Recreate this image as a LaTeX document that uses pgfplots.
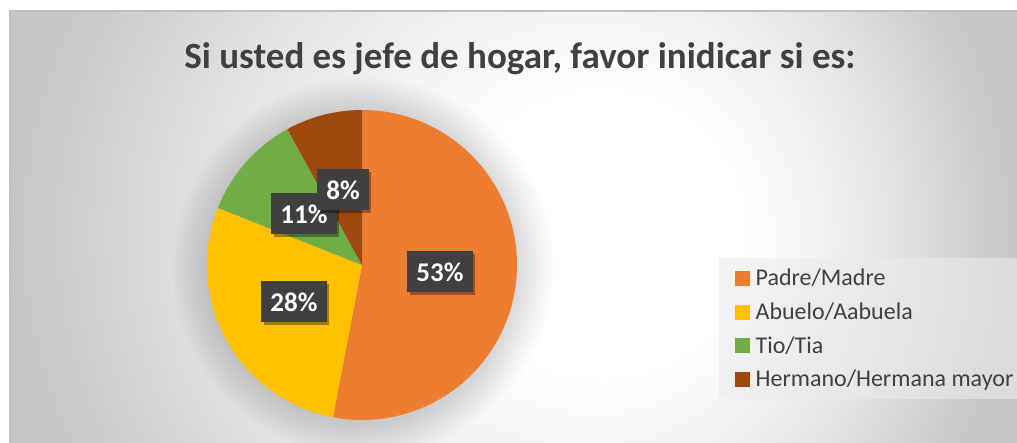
\documentclass[border=0pt]{standalone}
\usepackage{pgfplots}
\pgfplotsset{compat=1.18}
\usepackage{pgfplotstable}
\usepackage{fontspec}
\setmainfont{Carlito}
\usetikzlibrary{shadows}
\definecolor{pieA}{HTML}{ED7D31}
\definecolor{pieB}{HTML}{FFC000}
\definecolor{pieC}{HTML}{70AD47}
\definecolor{pieD}{HTML}{9E480E}
\definecolor{txt}{HTML}{404040}
\definecolor{bgout}{HTML}{C6C6C6}
\definecolor{bgmid}{HTML}{E4E4E4}

\pgfplotstableread{
share
53
28
11
8
}\piedata

% path bounding box half-size (1200pt) corresponds to 25bp
\pgfdeclareradialshading{bgshade}{\pgfpoint{12.5bp}{-0.3bp}}{color(0bp)=(white); color(3bp)=(white); color(7bp)=(bgmid); color(10.5bp)=(bgout); color(50bp)=(bgout)}

\tikzset{lbl/.style={fill=txt, text=white, font=\bfseries\fontsize{27}{32}\selectfont,
    inner xsep=9pt, inner ysep=0pt, minimum height=41pt,
    drop shadow={shadow xshift=2.5pt, shadow yshift=-2.5pt, opacity=0.35, fill=black}}}

\begin{document}
\begin{tikzpicture}
\clip (0,0) rectangle (1017pt,443pt);
\useasboundingbox (0,0) rectangle (1017pt,443pt);
\fill[white] (0,0) rectangle (1017pt,443pt);
\begin{scope}
\clip (10pt,0) rectangle (1017pt,432pt);
\fill[bgout] (10pt,0) rectangle (1017pt,432pt);
\shade[shading=bgshade] (-1162pt,-978pt) rectangle (1238pt,1422pt);
\end{scope}
\draw[gray!50, line width=1.2pt] (10pt,0) -- (10pt,432pt) -- (1017pt,432pt);

\pgfplotstablegetelem{0}{share}\of\piedata \let\sA\pgfplotsretval
\pgfplotstablegetelem{1}{share}\of\piedata \let\sB\pgfplotsretval
\pgfplotstablegetelem{2}{share}\of\piedata \let\sC\pgfplotsretval
\pgfplotstablegetelem{3}{share}\of\piedata \let\sD\pgfplotsretval
\pgfmathsetmacro{\aA}{90}
\pgfmathsetmacro{\aB}{\aA-3.6*\sA}
\pgfmathsetmacro{\aC}{\aB-3.6*\sB}
\pgfmathsetmacro{\aD}{\aC-3.6*\sC}
\pgfmathsetmacro{\aE}{\aD-3.6*\sD}

\begin{axis}[
  x=1pt, y=1pt, xmin=0, xmax=1017, ymin=0, ymax=443,
  scale only axis, axis lines=none, clip=false,
  legend style={at={(axis cs:719,185)}, anchor=north west, fill=black!8, fill opacity=0.6,
    text opacity=1, draw=none,
    font=\fontsize{24}{28}\selectfont, text=txt, row sep=11.5pt,
    inner xsep=16pt, inner ysep=9pt},
  legend cell align=left,
]
\addlegendimage{legend image code/.code={\fill[pieA, fill opacity=1] (0pt,-7pt) rectangle (14pt,7pt); \path (18pt,0pt);}}
\addlegendentry{Padre/Madre}
\addlegendimage{legend image code/.code={\fill[pieB, fill opacity=1] (0pt,-7pt) rectangle (14pt,7pt); \path (18pt,0pt);}}
\addlegendentry{Abuelo/Aabuela}
\addlegendimage{legend image code/.code={\fill[pieC, fill opacity=1] (0pt,-7pt) rectangle (14pt,7pt); \path (18pt,0pt);}}
\addlegendentry{Tio/Tia}
\addlegendimage{legend image code/.code={\fill[pieD, fill opacity=1] (0pt,-7pt) rectangle (14pt,7pt); \path (18pt,0pt);}}
\addlegendentry{Hermano/Hermana mayor}

\pgfplotsinvokeforeach{1,...,12}{\fill[black, opacity=0.011] (axis cs:363,176) circle[radius=154pt+3*#1pt];}
\fill[pieA] (axis cs:362,178) -- ++(\aA:155pt) arc[start angle=\aA, end angle=\aB, radius=155pt] -- cycle;
\fill[pieB] (axis cs:362,178) -- ++(\aB:155pt) arc[start angle=\aB, end angle=\aC, radius=155pt] -- cycle;
\fill[pieC] (axis cs:362,178) -- ++(\aC:155pt) arc[start angle=\aC, end angle=\aD, radius=155pt] -- cycle;
\fill[pieD] (axis cs:362,178) -- ++(\aD:155pt) arc[start angle=\aD, end angle=\aE, radius=155pt] -- cycle;

\node[lbl] at (axis cs:440,171) {53\%};
\node[lbl] at (axis cs:294,141) {28\%};
\node[lbl] at (axis cs:304,229) {11\%};
\node[lbl] at (axis cs:343,253) {8\%};

\node[font=\bfseries\fontsize{37}{42}\selectfont, text=txt, anchor=base] at (axis cs:520,374) {Si usted es jefe de hogar, favor inidicar si es:};
\end{axis}
\end{tikzpicture}
\end{document}
